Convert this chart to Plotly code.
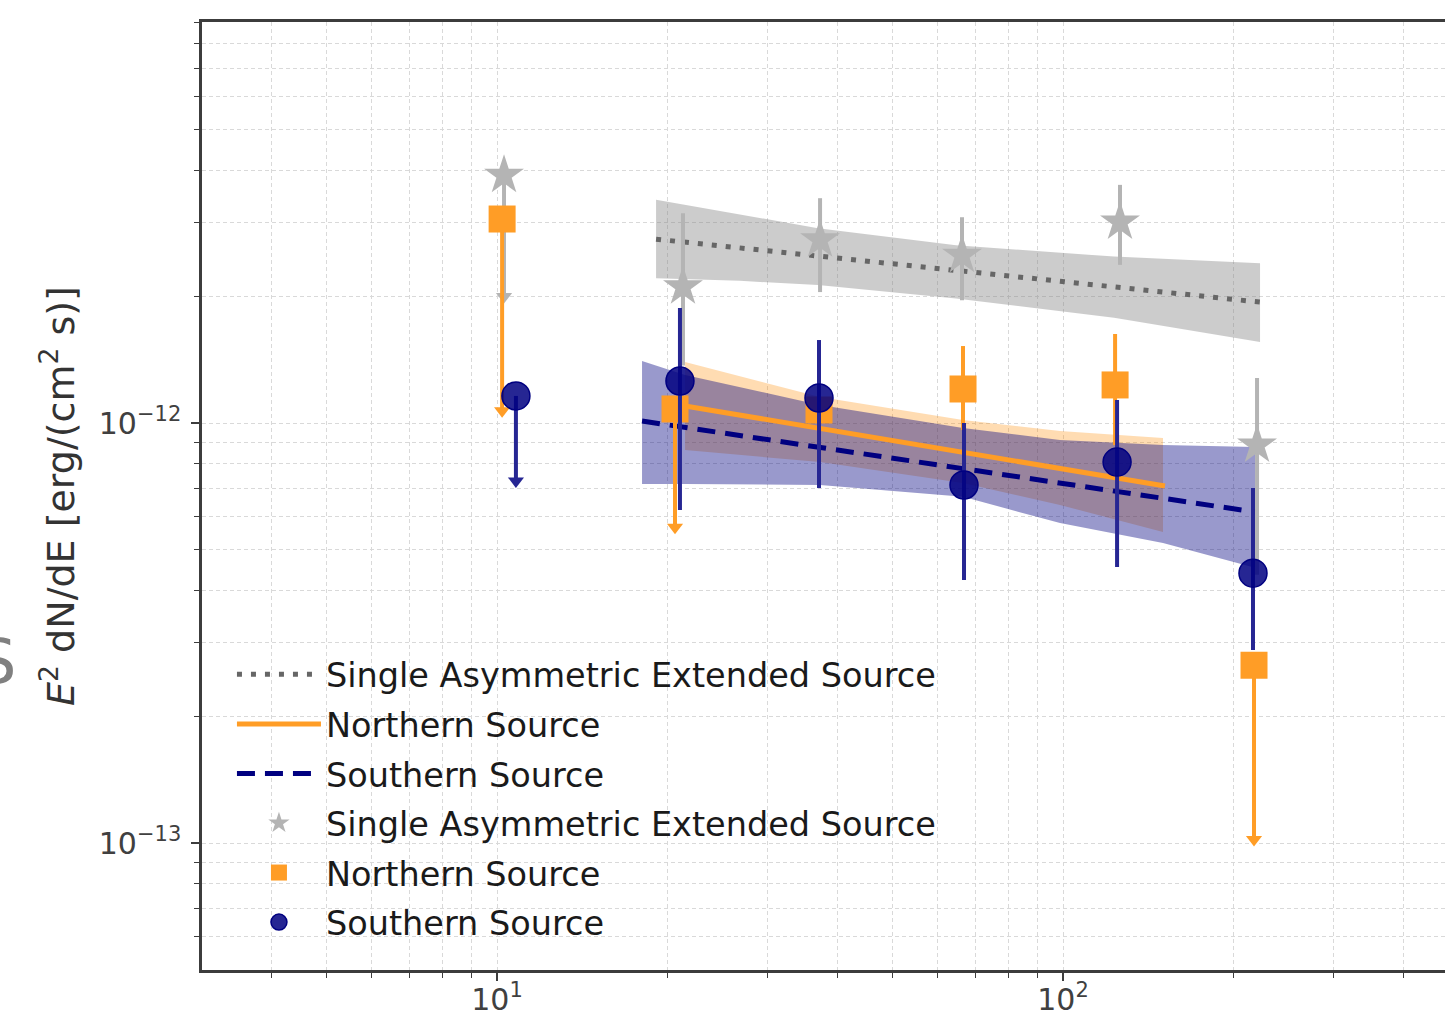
import plotly.graph_objects as go

# ---------------------------------------------------------------------------
# Spectral points: energy [GeV], E^2 dN/dE [erg cm^-2 s^-1]
# *_hi / *_lo are the ends of the error bars; for upper limits *_hi equals the
# flux and *_lo is where the downward arrow ends.
# ---------------------------------------------------------------------------
single_energy = [10.29, 21.31, 37.22, 66.31, 126.1, 220.2]
single_flux = [3.89e-12, 2.11e-12, 2.73e-12, 2.51e-12, 3.01e-12, 8.86e-13]
single_hi = [3.89e-12, 3.16e-12, 3.43e-12, 3.09e-12, 3.69e-12, 1.28e-12]
single_lo = [2.00e-12, 1.37e-12, 2.05e-12, 1.96e-12, 2.38e-12, 4.35e-13]
single_ul = [True, False, False, False, False, False]

north_energy = [10.21, 20.63, 37.06, 66.58, 123.6, 217.5]
north_flux = [3.06e-12, 1.08e-12, 1.074e-12, 1.205e-12, 1.232e-12, 2.65e-13]
north_hi = [3.06e-12, 1.08e-12, 1.452e-12, 1.525e-12, 1.629e-12, 2.65e-13]
north_lo = [1.07e-12, 5.65e-13, 7.24e-13, 9.62e-13, 8.86e-13, 1.02e-13]
north_ul = [True, True, False, False, False, True]

south_energy = [10.80, 21.05, 37.06, 66.85, 124.6, 216.6]
south_flux = [1.16e-12, 1.259e-12, 1.147e-12, 7.12e-13, 8.07e-13, 4.39e-13]
south_hi = [1.16e-12, 1.878e-12, 1.576e-12, 1.00e-12, 1.134e-12, 7.00e-13]
south_lo = [7.28e-13, 6.21e-13, 7.00e-13, 4.23e-13, 4.54e-13, 2.88e-13]
south_ul = [True, False, False, False, False, False]

# Best-fit power laws
single_model_e = [19.1, 222.9]
single_model_f = [2.74e-12, 1.94e-12]
north_model_e = [21.49, 151.4]
north_model_f = [1.098e-12, 7.08e-13]
south_model_e = [18.04, 218.4]
south_model_f = [1.011e-12, 6.14e-13]

# 1-sigma butterflies
single_band_e = [19.10, 26.88, 36.91, 64.71, 123.1, 222.9]
single_band_hi = [3.40e-12, 3.13e-12, 2.91e-12, 2.65e-12, 2.49e-12, 2.40e-12]
single_band_lo = [2.21e-12, 2.18e-12, 2.13e-12, 1.98e-12, 1.78e-12, 1.56e-12]

north_band_e = [21.49, 37.22, 66.58, 98.79, 150.2]
north_band_hi = [1.397e-12, 1.153e-12, 1.017e-12, 9.57e-13, 9.21e-13]
north_band_lo = [8.62e-13, 8.07e-13, 7.20e-13, 6.38e-13, 5.50e-13]

south_band_e = [18.04, 21.49, 37.22, 66.58, 98.79, 150.2, 218.4]
south_band_hi = [1.405e-12, 1.301e-12, 1.104e-12, 9.73e-13, 9.11e-13, 8.86e-13, 8.77e-13]
south_band_lo = [7.16e-13, 7.16e-13, 7.12e-13, 6.67e-13, 5.78e-13, 5.18e-13, 4.52e-13]

# Axis ticks
x_major = [10, 100]
x_major_text = ["10<sup>1</sup>", "10<sup>2</sup>"]
x_minor = [4, 5, 6, 7, 8, 9, 20, 30, 40, 50, 60, 70, 80, 90, 200, 300, 400]
y_major = [1e-13, 1e-12]
y_major_text = ["10<sup>\u221213</sup>", "10<sup>\u221212</sup>"]
y_minor = [6e-14, 7e-14, 8e-14, 9e-14,
           2e-13, 3e-13, 4e-13, 5e-13, 6e-13, 7e-13, 8e-13, 9e-13,
           2e-12, 3e-12, 4e-12, 5e-12, 6e-12, 7e-12, 8e-12, 9e-12]

NAMES = ["Single Asymmetric Extended Source", "Northern Source", "Southern Source"]

GRAY_PT = "#b4b4b4"
GRAY_LINE = "#666666"
ORANGE = "#ff9d26"
NAVY = "#000080"
NAVY_PT = "rgba(0,0,128,0.85)"
NAVY_BAR = "#262693"

fig = go.Figure()


def add_band(e, hi, lo, color):
    fig.add_trace(go.Scatter(
        x=e + e[::-1], y=hi + lo[::-1], mode="lines", fill="toself",
        fillcolor=color, line=dict(width=0), hoverinfo="skip", showlegend=False))


add_band(single_band_e, single_band_hi, single_band_lo, "rgba(128,128,128,0.4)")
add_band(north_band_e, north_band_hi, north_band_lo, "rgba(255,140,0,0.3)")
add_band(south_band_e, south_band_hi, south_band_lo, "rgba(0,0,128,0.4)")

# Model lines
fig.add_trace(go.Scatter(x=single_model_e, y=single_model_f, mode="lines", name=NAMES[0],
                         legendgroup="l0",
                         line=dict(color=GRAY_LINE, width=5, dash="5px,9px")))
fig.add_trace(go.Scatter(x=north_model_e, y=north_model_f, mode="lines", name=NAMES[1],
                         legendgroup="l1", line=dict(color=ORANGE, width=5)))
fig.add_trace(go.Scatter(x=south_model_e, y=south_model_f, mode="lines", name=NAMES[2],
                         legendgroup="l2",
                         line=dict(color=NAVY, width=5, dash="18px,10px")))


def add_points(e, f, hi, lo, ul, name, group, symbol, size, color, bar_color, edge):
    plus = [h - v for h, v in zip(hi, f)]
    minus = [v - l for v, l in zip(f, lo)]
    fig.add_trace(go.Scatter(
        x=e, y=f, mode="markers", name=name, legendgroup=group,
        marker=dict(symbol=symbol, size=size, color=color, line=edge),
        error_y=dict(type="data", symmetric=False, array=plus, arrayminus=minus,
                     color=bar_color, thickness=4, width=0)))
    # arrowheads for upper limits
    fig.add_trace(go.Scatter(
        x=[x for x, u in zip(e, ul) if u], y=[l for l, u in zip(lo, ul) if u],
        mode="markers", legendgroup=group, showlegend=False, hoverinfo="skip",
        marker=dict(symbol="triangle-down", size=14, color=bar_color, line=dict(width=0))))


add_points(single_energy, single_flux, single_hi, single_lo, single_ul, NAMES[0], "p0",
           "star", 30, GRAY_PT, GRAY_PT, dict(width=0))
add_points(north_energy, north_flux, north_hi, north_lo, north_ul, NAMES[1], "p1",
           "square", 27, ORANGE, ORANGE, dict(width=0))
add_points(south_energy, south_flux, south_hi, south_lo, south_ul, NAMES[2], "p2",
           "circle", 28, NAVY_PT, NAVY_BAR, dict(color=NAVY, width=1.5))

AXIS = "#3c3c3c"
GRID = "#d9d9d9"
grid_minor = dict(ticks="outside", ticklen=5, tickwidth=1.2, tickcolor=AXIS,
                  showgrid=True, gridcolor=GRID, gridwidth=1, griddash="4px,3px")

fig.update_xaxes(
    type="log", range=[0.4788, 2.6749],
    showline=True, linecolor=AXIS, linewidth=2.5, mirror=True,
    ticks="outside", ticklen=8, tickwidth=1.5, tickcolor=AXIS,
    tickvals=x_major, ticktext=x_major_text,
    tickfont=dict(size=30, color="#404040"), ticklabelstandoff=-7,
    showgrid=True, gridcolor=GRID, gridwidth=1, griddash="4px,3px",
    minor=dict(tickvals=x_minor, **grid_minor),
    zeroline=False, automargin=False)

fig.update_yaxes(
    type="log", range=[-13.3024, -11.0452],
    showline=True, linecolor=AXIS, linewidth=2.5, mirror=False,
    ticks="outside", ticklen=8, tickwidth=1.5, tickcolor=AXIS,
    tickvals=y_major, ticktext=y_major_text,
    tickfont=dict(size=30, color="#404040"), ticklabelstandoff=4,
    showgrid=True, gridcolor=GRID, gridwidth=1, griddash="4px,3px",
    minor=dict(tickvals=y_minor, **grid_minor),
    title=dict(text="<i>E</i><sup>2</sup> dN/dE [erg/(cm<sup>2</sup> s)]",
               font=dict(size=38, color="#333333"), standoff=13),
    zeroline=False, automargin=False)

fig.add_annotation(text="S", xref="paper", yref="paper", x=-0.1650, y=0.3250,
                   showarrow=False, xanchor="center", yanchor="middle",
                   font=dict(size=62, color="#808080", family="DejaVu Sans"))

fig.update_layout(
    width=1445, height=1016,
    margin=dict(l=202, r=0, t=22, b=46),
    plot_bgcolor="white", paper_bgcolor="white",
    font=dict(family="DejaVu Sans"),
    legend=dict(x=0.0241, y=0.3417, xanchor="left", yanchor="top",
                bgcolor="rgba(0,0,0,0)", borderwidth=0,
                font=dict(size=33.5, color="#1a1a1a"),
                itemwidth=84, traceorder="grouped", tracegroupgap=3),
)

fig.write_html("out.html")
